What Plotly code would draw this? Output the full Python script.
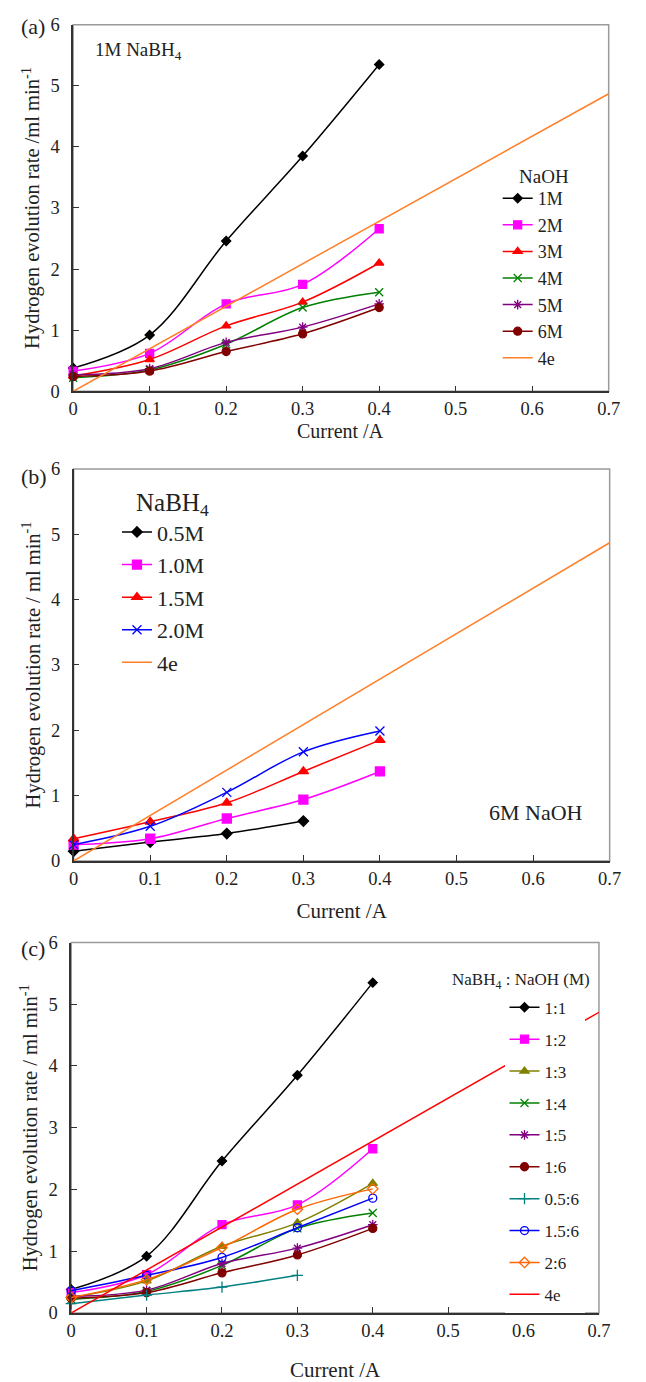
import plotly.graph_objects as go

W, H = 646, 1382

# ---------------- data ----------------
current = [0, 0.1, 0.2, 0.3, 0.4]
current_short = [0, 0.1, 0.2, 0.3]
fe_x = [0, 0.7]
fe_y = [0, 4.87]

# panel (a): 1M NaBH4, varying NaOH
a_names = ["1M", "2M", "3M", "4M", "5M", "6M"]
a_1M = [0.38, 0.92, 2.46, 3.85, 5.35]
a_2M = [0.33, 0.62, 1.43, 1.75, 2.66]
a_3M = [0.25, 0.52, 1.07, 1.46, 2.10]
a_4M = [0.22, 0.35, 0.77, 1.37, 1.62]
a_5M = [0.27, 0.37, 0.80, 1.05, 1.43]
a_6M = [0.24, 0.33, 0.65, 0.94, 1.37]

# panel (b): 6M NaOH, varying NaBH4
b_names = ["0.5M", "1.0M", "1.5M", "2.0M"]
b_05 = [0.15, 0.29, 0.42, 0.61]
b_10 = [0.25, 0.34, 0.65, 0.94, 1.37]
b_15 = [0.34, 0.60, 0.89, 1.37, 1.85]
b_20 = [0.25, 0.53, 1.05, 1.67, 1.99]

# panel (c): NaBH4 : NaOH ratios
c_names = ["1:1", "1:2", "1:3", "1:4", "1:5", "1:6", "0.5:6", "1.5:6", "2:6"]
c_11 = [0.38, 0.92, 2.46, 3.85, 5.35]
c_12 = [0.33, 0.62, 1.43, 1.75, 2.66]
c_13 = [0.25, 0.52, 1.08, 1.46, 2.10]
c_14 = [0.22, 0.35, 0.77, 1.37, 1.62]
c_15 = [0.27, 0.37, 0.80, 1.05, 1.43]
c_16 = [0.24, 0.33, 0.65, 0.94, 1.37]
c_056 = [0.15, 0.29, 0.42, 0.61]
c_156 = [0.36, 0.61, 0.90, 1.38, 1.86]
c_26 = [0.25, 0.54, 1.06, 1.68, 2.01]

x_ticks = [0, 0.1, 0.2, 0.3, 0.4, 0.5, 0.6, 0.7]
x_ticktext = ["0", "0.1", "0.2", "0.3", "0.4", "0.5", "0.6", "0.7"]
y_ticks = [0, 1, 2, 3, 4, 5, 6]

FONT = "Liberation Serif"
TXT = "#222222"


def px(x):
    return x / W


def py(y):
    return 1 - y / H


fig = go.Figure()


def add_series(x, y, name, color, symbol, size, xa, ya, legend, mline=1.3):
    fig.add_trace(go.Scatter(
        x=x, y=y, name=name, mode="lines+markers",
        line=dict(color=color, width=1.5, shape="spline"),
        marker=dict(symbol=symbol, size=size, color=color,
                    line=dict(color=color, width=mline)),
        xaxis=xa, yaxis=ya, legend=legend, legendgroup=legend + name,
        cliponaxis=False,
    ))


def add_4e(color, xa, ya, legend):
    fig.add_trace(go.Scatter(
        x=fe_x, y=fe_y, name="4e", mode="lines",
        line=dict(color=color, width=1.5),
        xaxis=xa, yaxis=ya, legend=legend, legendgroup=legend + "4e",
    ))


# (a)
a_series = [a_1M, a_2M, a_3M, a_4M, a_5M, a_6M]
a_colors = ["#000000", "#FF00FF", "#FF0000", "#008000", "#800080", "#800000"]
a_symbols = ["diamond", "square", "triangle-up", "x-thin-open", "asterisk-open", "circle"]
a_sizes = [7, 8, 8, 8, 8, 8]
for n, s, c, m, z in zip(a_names, a_series, a_colors, a_symbols, a_sizes):
    add_series(current, s, n, c, m, z, "x", "y", "legend")
add_4e("#FF7F27", "x", "y", "legend")

# (b)
b_series = [b_05, b_10, b_15, b_20]
b_x = [current_short, current, current, current]
b_colors = ["#000000", "#FF00FF", "#FF0000", "#0000FF"]
b_symbols = ["diamond", "square", "triangle-up", "x-thin-open"]
b_sizes = [8, 9, 9, 9]
for n, xx, s, c, m, z in zip(b_names, b_x, b_series, b_colors, b_symbols, b_sizes):
    add_series(xx, s, n, c, m, z, "x2", "y2", "legend2")
add_4e("#FF7F27", "x2", "y2", "legend2")

# (c)
c_series = [c_11, c_12, c_13, c_14, c_15, c_16, c_056, c_156, c_26]
c_x = [current] * 6 + [current_short, current, current]
c_colors = ["#000000", "#FF00FF", "#808000", "#008000", "#800080", "#800000",
            "#008080", "#0000FF", "#FF6600"]
c_symbols = ["diamond", "square", "triangle-up", "x-thin-open", "asterisk-open", "circle",
             "cross-thin-open", "circle-open", "diamond-open"]
c_sizes = [7, 8, 8, 8, 8, 8, 8, 8, 8]
for n, xx, s, c, m, z in zip(c_names, c_x, c_series, c_colors, c_symbols, c_sizes):
    add_series(xx, s, n, c, m, z, "x3", "y3", "legend3")
add_4e("#FF0000", "x3", "y3", "legend3")

# ---------------- layout ----------------
panels = {
    "": dict(x0=70, x1=620, y0=15, y1=388, xtitle=None, xstand=0,
             ytitle="Hydrogen evolution rate /ml min<sup>-1</sup>"),
    "2": dict(x0=70.5, x1=621, y0=467, y1=866, xtitle="Current /A", xstand=15,
              ytitle="Hydrogen evolution rate / ml min<sup>-1</sup>"),
    "3": dict(x0=68, x1=610, y0=949, y1=1326, xtitle="Current /A", xstand=26,
              ytitle="Hydrogen evolution rate / ml min<sup>-1</sup>"),
}

layout = dict(
    width=W, height=H, margin=dict(l=0, r=0, t=0, b=0),
    paper_bgcolor="white", plot_bgcolor="white",
    font=dict(family=FONT, color=TXT, size=16),
)

shapes = []
for k, p in panels.items():
    xd = [px(p["x0"]), px(p["x1"])]
    yd = [py(p["y1"]), py(p["y0"])]
    xaxis = dict(
        domain=xd, range=[0, 0.7], tickvals=x_ticks, ticktext=x_ticktext,
        ticks="inside", ticklen=6, tickwidth=1.3, tickcolor="#333333",
        showline=True, linecolor="#333333", linewidth=1.5, showgrid=False, zeroline=False,
        tickfont=dict(family=FONT, size=18.5, color=TXT),
        anchor="y" + k,
    )
    if p["xtitle"]:
        xaxis["title"] = dict(text=p["xtitle"], font=dict(family=FONT, size=21, color=TXT),
                              standoff=p["xstand"])
    layout["xaxis" + k] = xaxis
    layout["yaxis" + k] = dict(
        domain=yd, range=[0, 6], tickvals=y_ticks,
        ticks="inside", ticklen=6, tickwidth=1.3, tickcolor="#333333",
        showline=True, linecolor="#333333", linewidth=1.5, showgrid=False, zeroline=False,
        tickfont=dict(family=FONT, size=18.5, color=TXT),
        ticklabelstandoff=8,
        title=dict(text=p["ytitle"], font=dict(family=FONT, size=20.5, color=TXT), standoff=5),
        anchor="x" + k,
    )
    shapes.append(dict(type="rect", xref="x" + k + " domain", yref="y" + k + " domain",
                       x0=0, x1=1, y0=0, y1=1, line=dict(color="#9a9a9a", width=1.5),
                       layer="below"))

layout["shapes"] = shapes

layout["legend"] = dict(
    x=px(506), y=py(173), xanchor="left", yanchor="top",
    bgcolor="rgba(255,255,255,0)", itemwidth=30, tracegroupgap=0.2,
    font=dict(family=FONT, size=18, color=TXT),
)
layout["legend2"] = dict(
    x=px(115), y=py(510), xanchor="left", yanchor="top",
    bgcolor="rgba(255,255,255,0)", itemwidth=30, tracegroupgap=1,
    font=dict(family=FONT, size=22, color=TXT),
)
layout["legend3"] = dict(
    x=px(513), y=py(997), xanchor="left", yanchor="top",
    bgcolor="white", itemwidth=30, tracegroupgap=6.8,
    font=dict(family=FONT, size=17, color=TXT),
)

ann = []


def note(text, x, y, size, xanchor="left"):
    ann.append(dict(text=text, x=px(x), y=py(y), xref="paper", yref="paper",
                    xanchor=xanchor, yanchor="middle", showarrow=False,
                    font=dict(family=FONT, size=size, color=TXT)))


note("(a)", 14, 17, 22)
note("(b)", 14, 475, 22)
note("(c)", 14, 955, 22)
note("1M NaBH<sub>4</sub>", 90, 42, 19)
note("Current /A", 345, 428, 20, xanchor="center")
note("NaOH", 526, 169, 19)
note("NaBH<sub>4</sub>", 132, 503, 25)
note("6M NaOH", 495, 817, 22)
note("NaBH<sub>4</sub> : NaOH (M)", 457, 988, 17)
layout["annotations"] = ann

fig.update_layout(**layout)
fig.write_html("out.html")
